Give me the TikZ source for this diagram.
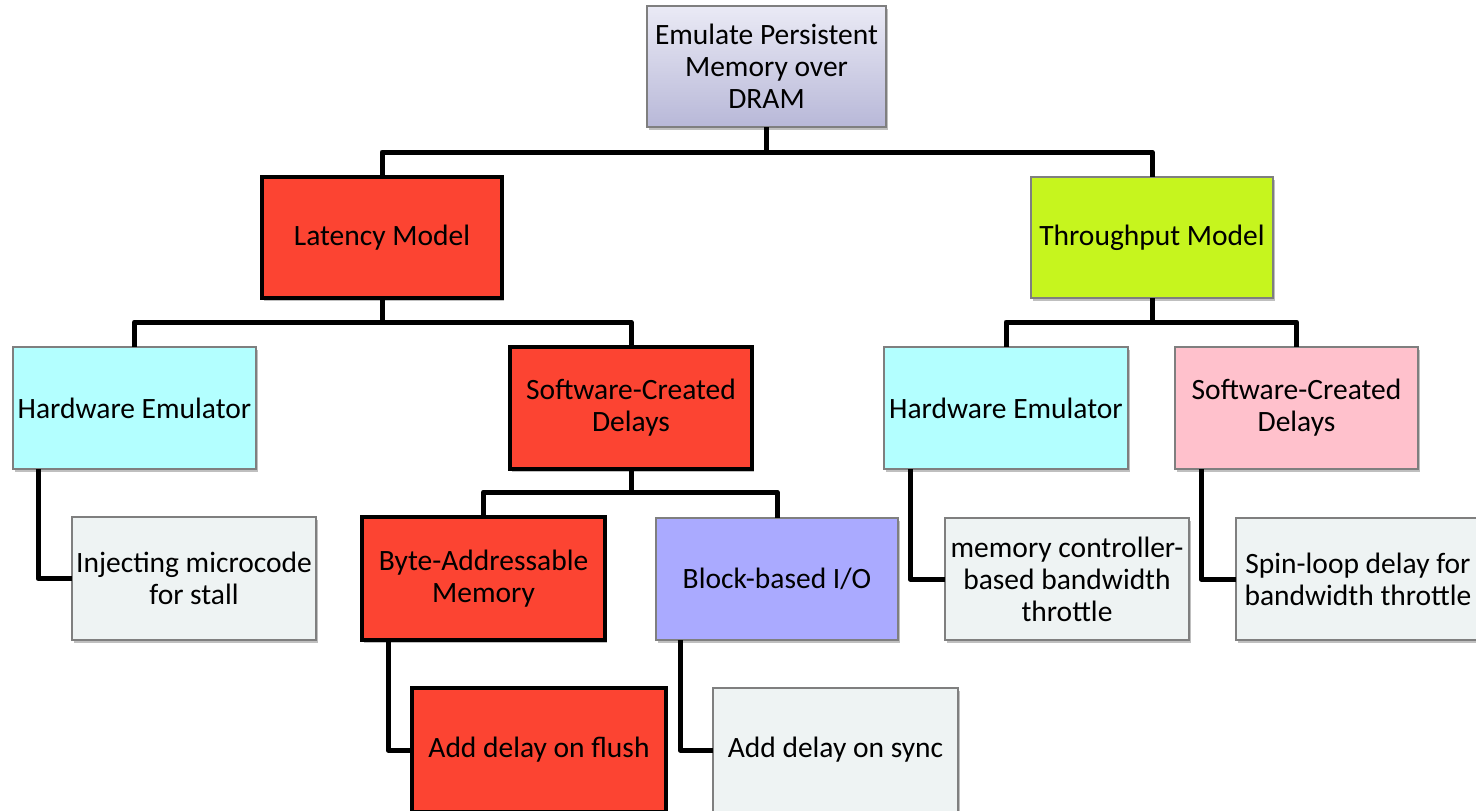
\documentclass[tikz,border=0pt]{standalone}
\usepackage{fontspec}
\setmainfont{Carlito}
\usetikzlibrary{shadows}
\definecolor{redbox}{HTML}{FC4432}
\definecolor{limebox}{HTML}{C6F51E}
\definecolor{cyanbox}{HTML}{B3FFFF}
\definecolor{pinkbox}{HTML}{FFC1CC}
\definecolor{greybox}{HTML}{EEF3F3}
\definecolor{bluebox}{HTML}{AAAAFF}
\definecolor{topA}{HTML}{EAEAF5}
\definecolor{topB}{HTML}{B8B8D8}
\definecolor{edgegrey}{HTML}{7F7F7F}
\tikzset{
  box/.style={rectangle, inner sep=0pt, outer sep=0pt, align=center,
    font=\fontsize{29.5}{32}\selectfont,
    drop shadow={shadow xshift=2pt, shadow yshift=-3pt, opacity=0.25, fill=black}},
  greyedge/.style={box, draw=edgegrey, line width=2pt},
  redb/.style={box, draw=black, line width=3.5pt, fill=redbox},
  conn/.style={draw=black, line width=5pt, line join=round},
}
\begin{document}
\begin{tikzpicture}[x=1pt, y=-1pt]
\useasboundingbox (0,0) rectangle (1476,811);
\clip (0,0) rectangle (1476,811);
% level 0
\node[greyedge, top color=topA, bottom color=topB, minimum width=239pt, minimum height=121pt] (top) at (766.5,66.5) {Emulate Persistent\\Memory over\\DRAM};
% level 1
\node[redb, minimum width=240pt, minimum height=121pt] (lat) at (382,237.5) {Latency Model};
\node[greyedge, fill=limebox, minimum width=242pt, minimum height=121pt] (thr) at (1152,237.5) {Throughput Model};
% level 2
\node[greyedge, fill=cyanbox, minimum width=243pt, minimum height=122pt] (hwl) at (134.5,408) {Hardware Emulator};
\node[redb, minimum width=242pt, minimum height=122pt] (swl) at (631,408) {Software-Created\\Delays};
\node[greyedge, fill=cyanbox, minimum width=244pt, minimum height=122pt] (hwr) at (1006,408) {Hardware Emulator};
\node[greyedge, fill=pinkbox, minimum width=243pt, minimum height=122pt] (swr) at (1296.5,408) {Software-Created\\Delays};
% level 3
\node[greyedge, fill=greybox, minimum width=244pt, minimum height=123pt] (inj) at (194,578.5) {Injecting microcode\\for stall};
\node[redb, minimum width=243pt, minimum height=123pt] (byte) at (483.5,578.5) {Byte-Addressable\\Memory};
\node[greyedge, fill=bluebox, minimum width=242pt, minimum height=122pt] (blk) at (777,579) {Block-based I/O};
\node[greyedge, fill=greybox, minimum width=244pt, minimum height=122pt] (mem) at (1067,579) {memory controller-\\based bandwidth\\throttle};
\node[greyedge, fill=greybox, minimum width=244pt, minimum height=122pt] (spin) at (1358,579) {Spin-loop delay for\\bandwidth throttle};
% level 4
\node[redb, minimum width=254pt, minimum height=124pt] (flush) at (539,750) {Add delay on flush};
\node[greyedge, fill=greybox, minimum width=245pt, minimum height=124pt] (sync) at (835.5,750) {Add delay on sync};
% connectors
\draw[conn] (top.south) -- ++(0,25) -| (lat.north);
\draw[conn] (top.south) -- ++(0,25) -| (thr.north);
\draw[conn] (lat.south) -- ++(0,24) -| (hwl.north);
\draw[conn] (lat.south) -- ++(0,24) -| (swl.north);
\draw[conn] (thr.south) -- ++(0,24) -| (hwr.north);
\draw[conn] (thr.south) -- ++(0,24) -| (swr.north);
\draw[conn] (swl.south) -- ++(0,23) -| (byte.north);
\draw[conn] (swl.south) -- ++(0,23) -| (blk.north);
\draw[conn] ([xshift=25pt]hwl.south west) |- (inj.west);
\draw[conn] ([xshift=26pt]byte.south west) |- (flush.west);
\draw[conn] ([xshift=24pt]blk.south west) |- (sync.west);
\draw[conn] ([xshift=26pt]hwr.south west) |- (mem.west);
\draw[conn] ([xshift=26pt]swr.south west) |- (spin.west);
\end{tikzpicture}
\end{document}
